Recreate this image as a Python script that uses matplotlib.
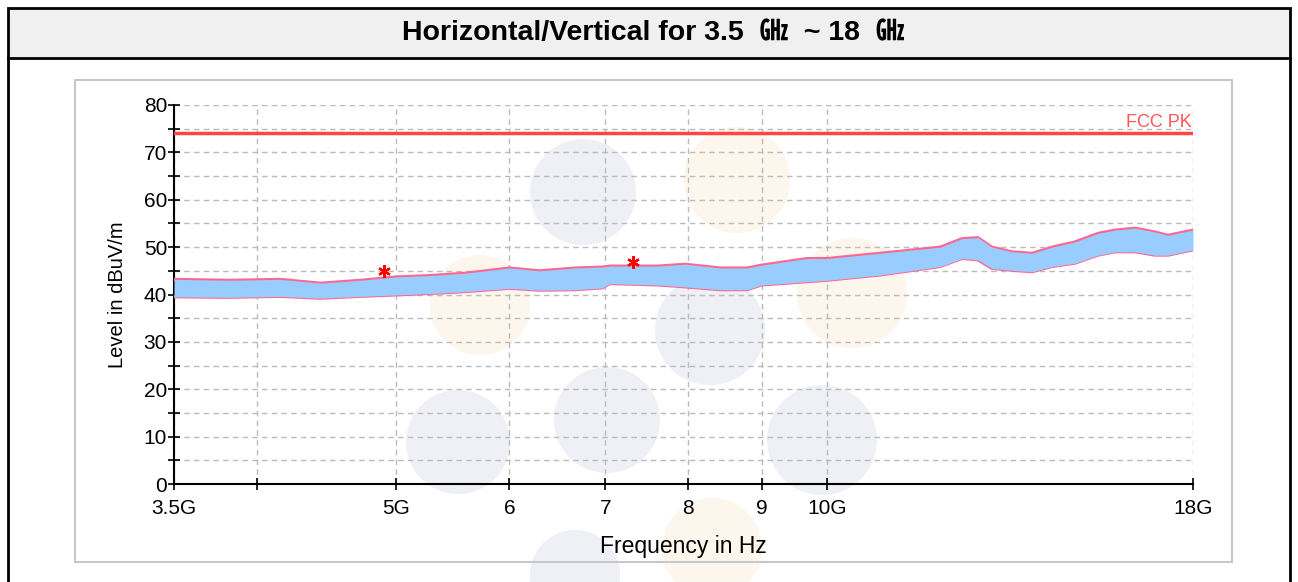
import matplotlib
matplotlib.use("Agg")
import matplotlib.pyplot as plt
from matplotlib.patches import Circle, Rectangle
import numpy as np

plt.rcParams['font.family'] = ['Liberation Sans', 'Noto Sans CJK JP', 'DejaVu Sans']

# trace envelope (GHz, dBuV/m)
freq = [3.5, 3.83, 4.15, 4.43, 4.72, 5.0, 5.28, 5.59, 6.0, 6.30, 6.67, 6.97,
        7.05, 7.62, 7.96, 8.42, 8.79, 9.0, 9.68, 10.0, 10.88, 11.99, 12.42,
        12.74, 13.03, 13.46, 13.90, 14.35, 14.89, 15.45, 15.88, 16.40, 16.93,
        17.29, 18.0]
level_top = [43.2, 43.0, 43.2, 42.4, 43.0, 43.7, 44.0, 44.5, 45.6, 45.0, 45.6,
             45.8, 46.0, 46.0, 46.4, 45.6, 45.6, 46.2, 47.6, 47.6, 48.7, 50.0,
             51.8, 52.0, 50.0, 49.0, 48.7, 50.0, 51.1, 52.9, 53.6, 54.0, 53.2,
             52.5, 53.6]
level_bot = [39.5, 39.4, 39.6, 39.2, 39.6, 39.9, 40.2, 40.6, 41.3, 40.9, 41.0,
             41.4, 42.3, 42.0, 41.6, 41.0, 41.0, 42.0, 42.7, 43.0, 44.1, 45.9,
             47.6, 47.3, 45.5, 45.1, 44.8, 45.9, 46.6, 48.3, 49.0, 49.0, 48.3,
             48.3, 49.4]

limit_level = 74.0
peak_freq = [4.905, 7.32]
peak_level = [44.9, 46.8]

xticks = [3.5, 4, 5, 6, 7, 8, 9, 10, 18]
xtick_labels = ['3.5G', '', '5G', '6', '7', '8', '9', '10G', '18G']

W, H = 1298, 582
fig = plt.figure(figsize=(W / 100, H / 100), dpi=100)

# background layer in pixel coords: frame, title bar, watermark
bg = fig.add_axes([0, 0, 1, 1], zorder=0)
bg.set_xlim(0, W)
bg.set_ylim(H, 0)
bg.axis('off')

gray_c = '#eef0f6'
orange_c = '#fdf6ec'
for cx, cy, r, c in [(583, 192, 53, gray_c), (737, 180, 53, orange_c),
                     (480, 305, 50, orange_c), (710, 330, 55, gray_c),
                     (852, 293, 55, orange_c), (458, 442, 52, gray_c),
                     (607, 420, 53, gray_c), (822, 440, 55, gray_c),
                     (712, 548, 50, orange_c), (575, 575, 45, gray_c)]:
    bg.add_patch(Circle((cx, cy), r, color=c, lw=0, zorder=1))

bg.add_patch(Rectangle((8, 8), W - 16, 50, facecolor='#f0f0f0',
                       edgecolor='black', lw=2, zorder=2))
bg.plot([8, 8], [58, H], color='black', lw=2, zorder=2)
bg.plot([W - 8, W - 8], [58, H], color='black', lw=2, zorder=2)
bg.add_patch(Rectangle((75, 80), 1157, 482, facecolor='none',
                       edgecolor='#c8c8c8', lw=1.5, zorder=2))
bg.text(653, 33, 'Horizontal/Vertical for 3.5  \u3393  ~ 18  \u3393',
        ha='center', va='center', fontsize=20.5, fontweight='bold', zorder=3)

# main chart
ax = fig.add_axes([174 / W, 1 - 484 / H, 1019 / W, 379 / H], zorder=1)
ax.set_facecolor('none')
ax.set_xscale('log')
ax.set_xlim(3.5, 18)
ax.set_ylim(0, 80)

ax.plot(freq, level_top, color='#ff6690', lw=2.2, zorder=3)
ax.plot(freq, level_bot, color='#ff6690', lw=2.2, zorder=3)
ax.fill_between(freq, level_bot, level_top, color='#99ccff', lw=0, zorder=4)
ax.axhline(limit_level, color='#ff4444', lw=2.5, zorder=5)
ax.text(17.95, limit_level + 0.6, 'FCC PK', color='#ff5555', fontsize=13,
        ha='right', va='bottom', zorder=5)
ax.plot(peak_freq, peak_level, linestyle='none', marker=(6, 2, 0),
        markersize=9, color='red', markeredgewidth=1.6, zorder=6)

ax.set_xticks(xticks)
ax.set_xticklabels(xtick_labels)
ax.xaxis.set_minor_locator(matplotlib.ticker.NullLocator())
ax.set_yticks(range(0, 81, 10))
ax.set_yticks(range(5, 80, 10), minor=True)
ax.tick_params(axis='both', which='both', direction='inout', length=8,
               width=1.2, labelsize=15, colors='black')
ax.tick_params(axis='x', pad=7)
ax.tick_params(axis='y', pad=1)
ax.grid(True, which='both', color='#bbbbbb', linestyle='--', lw=1, dashes=(4, 3))
ax.set_axisbelow(True)

for s in ['top', 'right']:
    ax.spines[s].set_visible(False)
for s in ['left', 'bottom']:
    ax.spines[s].set_linewidth(1.5)

ax.set_xlabel('Frequency in Hz', fontsize=16.5, labelpad=12)
ax.set_ylabel('Level in dBuV/m', fontsize=14.5, labelpad=12)

fig.savefig('out.png', dpi=100)
